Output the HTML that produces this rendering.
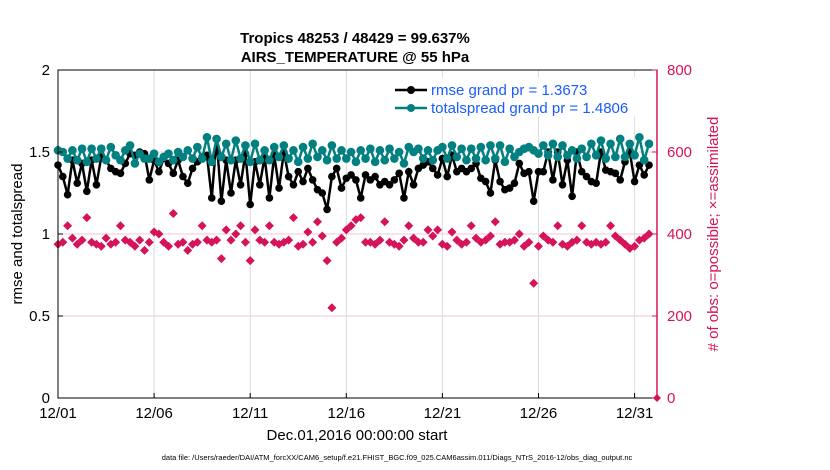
<!DOCTYPE html>
<html><head><meta charset="utf-8"><style>
body{margin:0;background:#fff;}
svg{display:block;font-family:"Liberation Sans",sans-serif;}
</style></head><body>
<svg id="chart" width="830" height="470">
<rect x="0" y="0" width="830" height="470" fill="#fff"/>
<g id="grid"></g>
<g id="series"></g>
<rect x="58" y="70" width="599" height="328" fill="none" stroke="#000" stroke-width="1"/>
<g id="axes"></g>
<text x="355" y="43" text-anchor="middle" font-size="15" font-weight="bold">Tropics 48253 / 48429 = 99.637%</text>
<text x="355" y="62" text-anchor="middle" font-size="15" font-weight="bold">AIRS_TEMPERATURE @ 55 hPa</text>
<text x="22" y="234" text-anchor="middle" font-size="15" transform="rotate(-90 22 234)">rmse and totalspread</text>
<text x="718" y="234" text-anchor="middle" font-size="15" fill="#d6135a" transform="rotate(-90 718 234)"># of obs: o=possible; ×=assimilated</text>
<text x="357" y="440" text-anchor="middle" font-size="15">Dec.01,2016 00:00:00 start</text>
<text x="397" y="460" text-anchor="middle" font-size="7.5">data file: /Users/raeder/DAI/ATM_forcXX/CAM6_setup/f.e21.FHIST_BGC.f09_025.CAM6assim.011/Diags_NTrS_2016-12/obs_diag_output.nc</text>
<g>
<rect x="389" y="78" width="257" height="38" fill="#fff" stroke="#fff"/>
<line x1="395" y1="90" x2="427" y2="90" stroke="#000" stroke-width="2.5"/><circle cx="411" cy="90" r="4" fill="#000"/>
<text x="431" y="95" font-size="15" fill="#1a5cff">rmse grand pr = 1.3673</text>
<line x1="395" y1="108" x2="427" y2="108" stroke="#008080" stroke-width="2.5"/><circle cx="411" cy="108" r="4" fill="#008080"/>
<text x="431" y="113" font-size="15" fill="#1a5cff">totalspread grand pr = 1.4806</text>
</g>
</svg>
<script>
const xTickLabels=["12/01","12/06","12/11","12/16","12/21","12/26","12/31"];
const xTickDays=[0,5,10,15,20,25,30];
const yLeftTicks=[0,0.5,1,1.5,2];
const yRightTicks=[0,200,400,600,800];
const rmse=[1.42,1.35,1.24,1.45,1.31,1.43,1.26,1.45,1.30,1.47,1.45,1.40,1.38,1.37,1.43,1.49,1.48,1.50,1.49,1.33,1.45,1.38,1.46,1.43,1.37,1.45,1.35,1.31,1.40,1.44,1.47,1.48,1.22,1.58,1.20,1.45,1.25,1.45,1.30,1.49,1.18,1.44,1.30,1.47,1.22,1.48,1.28,1.50,1.35,1.30,1.38,1.32,1.40,1.33,1.27,1.25,1.15,1.35,1.40,1.28,1.34,1.36,1.33,1.22,1.36,1.33,1.35,1.30,1.32,1.30,1.33,1.37,1.22,1.38,1.30,1.40,1.42,1.44,1.40,1.36,1.46,1.35,1.48,1.38,1.40,1.38,1.40,1.43,1.34,1.32,1.25,1.45,1.32,1.27,1.28,1.31,1.43,1.37,1.38,1.20,1.38,1.38,1.50,1.33,1.50,1.30,1.45,1.23,1.50,1.38,1.35,1.32,1.31,1.50,1.39,1.38,1.37,1.33,1.44,1.50,1.32,1.42,1.36,1.42];
const spread=[1.51,1.50,1.46,1.51,1.45,1.52,1.44,1.52,1.46,1.52,1.45,1.53,1.48,1.45,1.51,1.54,1.43,1.49,1.46,1.46,1.49,1.44,1.47,1.49,1.45,1.50,1.47,1.51,1.46,1.53,1.46,1.59,1.44,1.58,1.47,1.55,1.45,1.57,1.46,1.54,1.44,1.55,1.45,1.51,1.45,1.53,1.47,1.54,1.46,1.51,1.44,1.53,1.46,1.55,1.47,1.51,1.45,1.54,1.46,1.51,1.46,1.50,1.44,1.51,1.46,1.52,1.44,1.51,1.45,1.52,1.46,1.50,1.43,1.53,1.50,1.52,1.46,1.51,1.45,1.51,1.53,1.46,1.54,1.47,1.52,1.45,1.52,1.46,1.53,1.45,1.54,1.46,1.54,1.44,1.52,1.47,1.50,1.52,1.53,1.51,1.49,1.54,1.48,1.55,1.47,1.54,1.48,1.51,1.46,1.52,1.47,1.55,1.48,1.57,1.46,1.55,1.47,1.58,1.47,1.55,1.48,1.59,1.45,1.55];
const nobs=[375,380,420,390,375,385,440,380,375,370,390,375,380,420,385,380,370,385,360,380,405,400,380,370,450,375,380,360,375,380,420,385,380,385,340,410,385,400,420,380,335,410,385,380,420,380,375,380,385,440,370,375,405,380,430,395,335,220,380,390,410,420,435,440,380,380,375,385,430,380,375,370,385,420,390,380,380,410,395,410,375,370,405,385,375,380,420,390,380,385,395,430,375,380,380,385,400,370,380,280,370,395,385,380,420,375,370,380,385,420,380,375,380,375,380,420,395,385,375,365,370,385,390,400];
const NS="http://www.w3.org/2000/svg";
const X0=58,PXDAY=19.22,YB=398,YT=70;
function xs(i){return X0+i*PXDAY/4;}
function xd(d){return X0+d*PXDAY;}
function yl(v){return YB-(v/2)*(YB-YT);}
function yr(v){return YB-(v/800)*(YB-YT);}
function mk(tag,attrs,parent){const e=document.createElementNS(NS,tag);for(const k in attrs)e.setAttribute(k,attrs[k]);parent.appendChild(e);return e;}
const grid=document.getElementById('grid'),axes=document.getElementById('axes'),ser=document.getElementById('series');
xTickDays.forEach((d,i)=>{
 const g=mk('line',{x1:xd(d),x2:xd(d),y1:YT,y2:YB,stroke:'#dcdcdc','stroke-width':1},grid);
 
 
 mk('line',{x1:xd(d),x2:xd(d),y1:YB,y2:YB-5,stroke:'#000'},axes);
 const t=mk('text',{x:xd(d),y:YB+20,'text-anchor':'middle','font-size':15},axes);
 t.textContent=xTickLabels[i];
 
 
});
yRightTicks.forEach(v=>{
 if(v>0&&v<800){const g=mk('line',{x1:X0,x2:657,y1:yr(v),y2:yr(v),stroke:'#f6c6d6','stroke-width':1},grid);
 
 }
 mk('line',{x1:652,x2:657,y1:yr(v),y2:yr(v),stroke:'#d6135a'},axes);
 const t=mk('text',{x:667,y:yr(v)+5,'font-size':15,fill:'#d6135a'},axes);
 t.textContent=v;
 
 
});
mk('line',{x1:657,x2:657,y1:YT,y2:YB,stroke:'#d6135a','stroke-width':1.5},axes);
yLeftTicks.forEach(v=>{
 mk('line',{x1:X0,x2:X0+5,y1:yl(v),y2:yl(v),stroke:'#000'},axes);
 const t=mk('text',{x:X0-8,y:yl(v)+5,'text-anchor':'end','font-size':15},axes);
 t.textContent=v;
 
 
});
nobs.forEach((v,i)=>{
 const x=xs(i),y=yr(v);
 const p=mk('path',{d:`M${x-4.5},${y}L${x},${y-4.5}L${x+4.5},${y}L${x},${y+4.5}Z`,fill:'#d6135a'},ser);
 
 
});
const zp=mk('path',{d:`M653,398L657,394L661,398L657,402Z`,fill:'#d6135a'},ser);


function line(arr,color,name,r){
 const pl=mk('polyline',{points:arr.map((v,i)=>xs(i)+','+yl(v)).join(' '),fill:'none',stroke:color,'stroke-width':2.5},ser);
 
 
 arr.forEach((v,i)=>{const c=mk('circle',{cx:xs(i),cy:yl(v),r:r,fill:color},ser);
 
 });
}
line(rmse,'#000','rmse',3.8);
line(spread,'#008080','totalspread',4.3);
</script>
</body></html>
